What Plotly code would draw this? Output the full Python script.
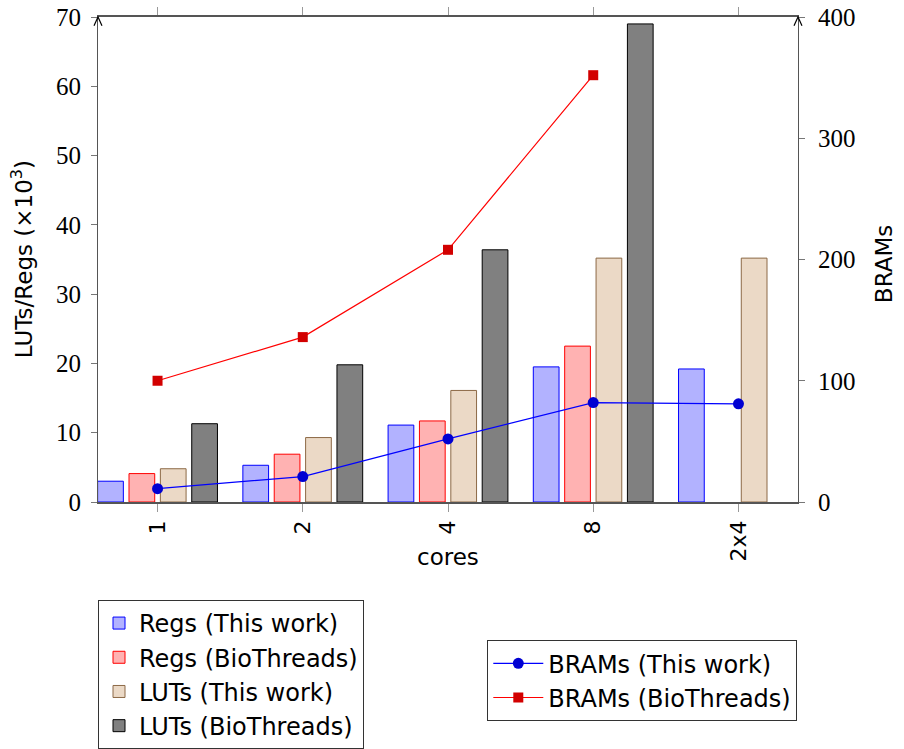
import plotly.graph_objects as go

cores = ["1", "2", "4", "8", "2x4"]

regs_this = [3.0, 5.3, 11.1, 19.5, 19.2]
regs_bio = [4.1, 6.9, 11.7, 22.5, None]
luts_this = [4.8, 9.3, 16.1, 35.2, 35.2]
luts_bio = [11.3, 19.8, 36.4, 69.0, None]

brams_this = [11, 21, 52, 82, 81]
brams_bio = [100, 136, 208, 352, None]

SANS = "DejaVu Sans"
SERIF = "Liberation Serif"

fig = go.Figure()

# bars on the left axis
bar_specs = [
    ("Regs (This work)", regs_this, "rgb(178,178,255)", "rgb(0,0,255)"),
    ("Regs (BioThreads)", regs_bio, "rgb(255,178,178)", "rgb(255,0,0)"),
    ("LUTs (This work)", luts_this, "rgb(235,217,198)", "rgb(140,105,70)"),
    ("LUTs (BioThreads)", luts_bio, "rgb(128,128,128)", "rgb(0,0,0)"),
]
for name, vals, fill, edge in bar_specs:
    fig.add_trace(go.Bar(
        x=cores, y=vals, name=name, legendgroup=name,
        marker=dict(color=fill, line=dict(color=edge, width=1)),
        legend="legend",
    ))

# BRAM lines on the right axis
fig.add_trace(go.Scatter(
    x=cores, y=brams_this, name="BRAMs (This work)", yaxis="y2",
    legendgroup="bt", mode="lines+markers",
    line=dict(color="rgb(0,0,255)", width=1.2),
    marker=dict(symbol="circle", size=11, color="rgb(0,0,210)"),
    legend="legend2",
))
fig.add_trace(go.Scatter(
    x=cores, y=brams_bio, name="BRAMs (BioThreads)", yaxis="y2",
    legendgroup="bb", mode="lines+markers",
    line=dict(color="rgb(255,0,0)", width=1.2),
    marker=dict(symbol="square", size=10, color="rgb(210,0,0)"),
    legend="legend2",
))

axis_col = "#555"

fig.update_layout(
    width=904, height=749,
    margin=dict(l=98, r=106, t=17, b=247, autoexpand=False),
    plot_bgcolor="white", paper_bgcolor="white",
    barmode="group", bargap=0.136, bargroupgap=0.18,
    xaxis=dict(
        type="category", range=[-0.41, 4.41], automargin=False,
        tickangle=-90, tickfont=dict(family=SANS, size=22, color="black"),
        ticks="outside", ticklen=8, tickcolor="#999",
        showline=True, linecolor=axis_col, linewidth=1.5, mirror="allticks",
        showgrid=False,
    ),
    yaxis=dict(
        range=[0, 70], dtick=10, automargin=False, ticklabeloverflow="allow",
        tickfont=dict(family=SERIF, size=25, color="black"),
        ticks="outside", ticklen=6, tickcolor="#777", ticklabelstandoff=5,
        showline=True, linecolor=axis_col, linewidth=1.2,
        showgrid=False, zeroline=False,
    ),
    yaxis2=dict(
        range=[0, 400], dtick=100, overlaying="y", side="right", automargin=False,
        ticklabeloverflow="allow",
        tickfont=dict(family=SERIF, size=25, color="black"),
        ticks="outside", ticklen=6, tickcolor="#777", ticklabelstandoff=8,
        showline=True, linecolor=axis_col, linewidth=1.2,
        showgrid=False, zeroline=False,
    ),
    legend=dict(
        x=0, y=-0.202, xanchor="left", yanchor="top",
        bordercolor="#333", borderwidth=1, bgcolor="white",
        font=dict(family=SANS, size=24, color="black"),
        traceorder="grouped", tracegroupgap=0, itemwidth=30,
    ),
    legend2=dict(
        x=0.999, y=-0.285, xanchor="right", yanchor="top",
        bordercolor="#333", borderwidth=1, bgcolor="white",
        font=dict(family=SANS, size=24, color="black"),
        traceorder="grouped", tracegroupgap=0, itemwidth=50,
    ),
)

# axis titles placed as annotations
title_font = dict(family=SANS, size=23, color="black")
fig.add_annotation(x=0.5, y=-0.113, xref="paper", yref="paper", text="cores",
                   showarrow=False, font=title_font, xanchor="center", yanchor="middle")
fig.add_annotation(x=-0.109, y=0.5, xref="paper", yref="paper",
                   text="LUTs/Regs (×10<sup>3</sup>)", textangle=-90,
                   showarrow=False, font=title_font, xanchor="center", yanchor="middle")
fig.add_annotation(x=1.124, y=0.49, xref="paper", yref="paper", text="BRAMs",
                   textangle=-90, showarrow=False, font=title_font,
                   xanchor="center", yanchor="middle")

# open arrow heads on top of both vertical axes
for xp in (0, 1):
    fig.add_shape(
        type="path", xref="paper", yref="paper",
        path=f"M {xp - 0.0057},0.982 L {xp},1 L {xp + 0.0057},0.982",
        line=dict(color="black", width=1.2),
    )

# drop the default page margin so the figure sits at the window corner
fig.write_html("out.html", config={"displayModeBar": False},
               post_script="document.body.style.margin='0';")
